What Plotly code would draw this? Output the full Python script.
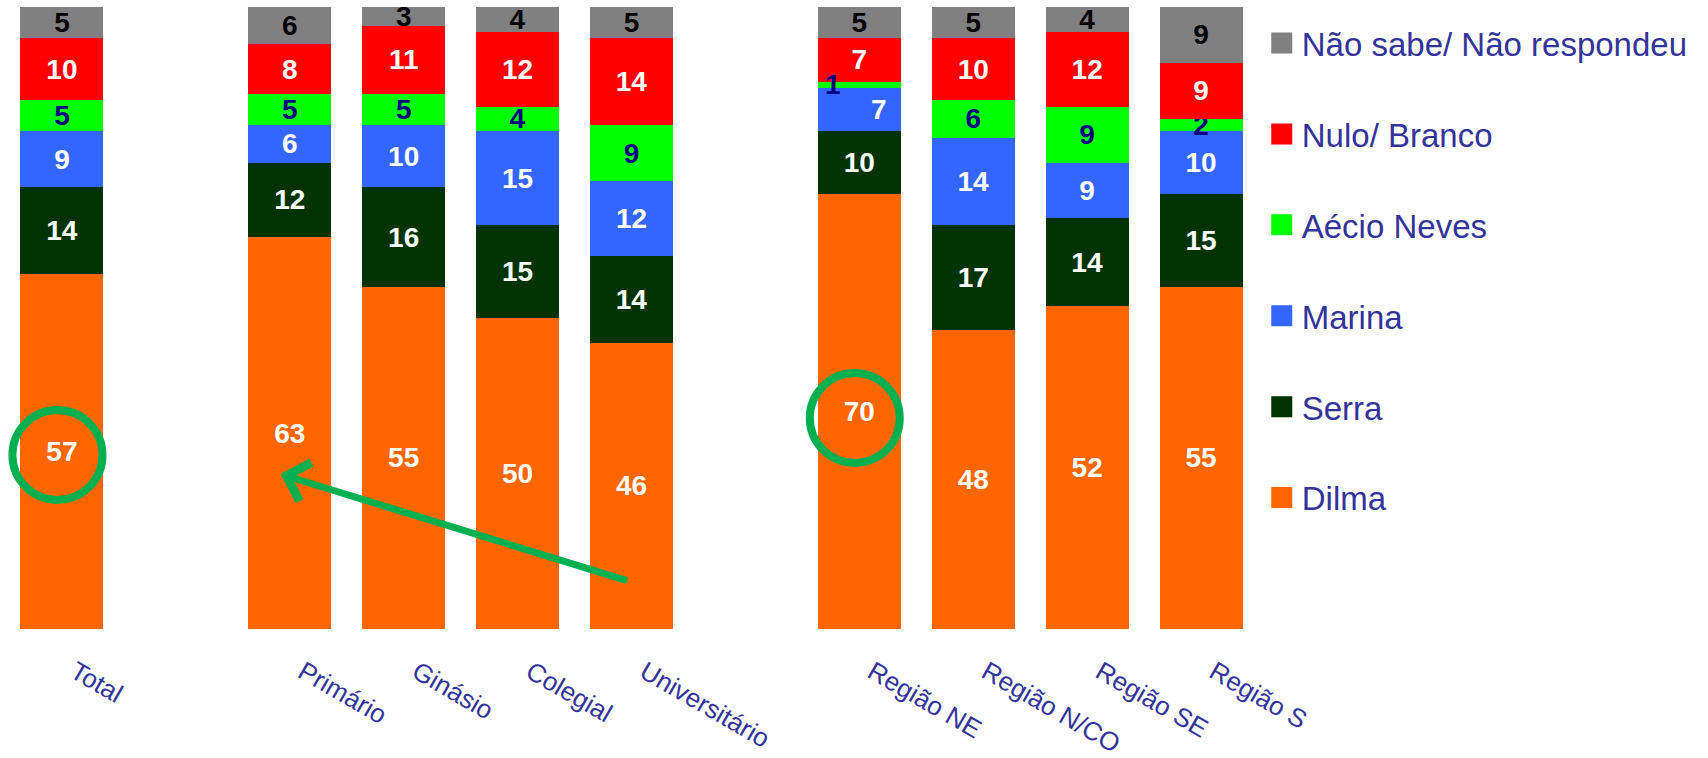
import plotly.graph_objects as go

# ---- data ----
categories = ["Total", " ", "Primário", "Ginásio", "Colegial", "Universitário", "  ",
              "Região NE", "Região N/CO", "Região SE", "Região S"]
dilma  = [57, None, 63, 55, 50, 46, None, 70, 48, 52, 55]
serra  = [14, None, 12, 16, 15, 14, None, 10, 17, 14, 15]
marina = [9,  None, 6, 10, 15, 12, None, 7, 14, 9, 10]
aecio  = [5,  None, 5, 5, 4, 9, None, 1, 6, 9, 2]
nulo   = [10, None, 8, 11, 12, 14, None, 7, 10, 12, 9]
nsnr   = [5,  None, 6, 3, 4, 5, None, 5, 5, 4, 9]

series_names = ["Dilma", "Serra", "Marina", "Aécio Neves", "Nulo/ Branco", "Não sabe/ Não respondeu"]
series_values = [dilma, serra, marina, aecio, nulo, nsnr]

# ---- styles ----
colors = ["#FF6600", "#003300", "#3366FF", "#00FF00", "#FF0000", "#808080"]
text_colors = ["white", "white", "white", "#000080", "white", "black"]
navy = "#333399"
LABEL_FONT = "Liberation Sans, Arial, sans-serif"

# labels moved sideways in the original (series index, category): x shift in px
label_shift = {(3, "Região NE"): -26, (2, "Região NE"): 20}

fig = go.Figure()
annotations = []
cum = [0] * len(categories)
for si, (name, vals) in enumerate(zip(series_names, series_values)):
    texts = []
    for ci, v in enumerate(vals):
        if v is None:
            texts.append("")
            continue
        key = (si, categories[ci])
        if key in label_shift:
            texts.append("")
            annotations.append(dict(
                x=categories[ci], y=cum[ci] + v / 2, xref="x", yref="y",
                text=f"<b>{v}</b>", showarrow=False, xshift=label_shift[key],
                font=dict(family=LABEL_FONT, size=28, color=text_colors[si])))
        else:
            texts.append(f"<b>{v}</b>")
        cum[ci] += v
    fig.add_trace(go.Bar(
        x=categories, y=vals, name=name, marker_color=colors[si],
        marker_line_width=0,
        text=texts, textposition="inside", insidetextanchor="middle",
        textangle=0, constraintext="none",
        textfont=dict(family=LABEL_FONT, size=28, color=text_colors[si]),
        showlegend=False, hoverinfo="skip"))

# legend entries (large square swatches), top to bottom
for si in reversed(range(len(series_names))):
    fig.add_trace(go.Scatter(
        x=[None], y=[None], mode="markers", name=series_names[si],
        legendgroup=series_names[si],
        marker=dict(symbol="square", size=16, color=colors[si],
                    line=dict(width=5, color=colors[si])),
        showlegend=True, hoverinfo="skip"))

# highlight circles and arrow
circle_style = dict(type="circle", xref="x", yref="y", line=dict(color="#00B050", width=8))
shapes = [
    dict(circle_style, x0=-0.435, x1=0.356, y0=20.75, y1=35.2),
    dict(circle_style, x0=6.565, x1=7.355, y0=26.7, y1=41.15),
]
annotations.append(dict(
    x=1.918, y=24.9, ax=4.974, ay=7.7, xref="x", yref="y", axref="x", ayref="y",
    text="", showarrow=True, arrowhead=4, arrowsize=1.1, arrowwidth=7,
    arrowcolor="#00B050", standoff=0))

fig.update_layout(
    barmode="stack", bargap=0.271,
    width=1708, height=758, autosize=False,
    margin=dict(l=5, r=450, t=7, b=129, autoexpand=False),
    plot_bgcolor="white", paper_bgcolor="white",
    shapes=shapes, annotations=annotations,
    legend=dict(x=1.003, y=0.987, xanchor="left", yanchor="top",
                font=dict(family=LABEL_FONT, size=33, color=navy),
                tracegroupgap=45, traceorder="grouped",
                bgcolor="rgba(0,0,0,0)"),
    xaxis=dict(categoryorder="array", categoryarray=categories,
               tickangle=30, showline=False, showgrid=False, zeroline=False,
               ticks="", ticklabelstandoff=22, ticklabelshift=13, automargin=False,
               tickfont=dict(family=LABEL_FONT, size=26, color=navy)),
    yaxis=dict(range=[0, 100], visible=False, showgrid=False, zeroline=False,
               automargin=False),
)

fig.write_html("out.html", config={"displayModeBar": False},
               post_script="document.body.style.margin='0';document.body.style.overflow='hidden';")
